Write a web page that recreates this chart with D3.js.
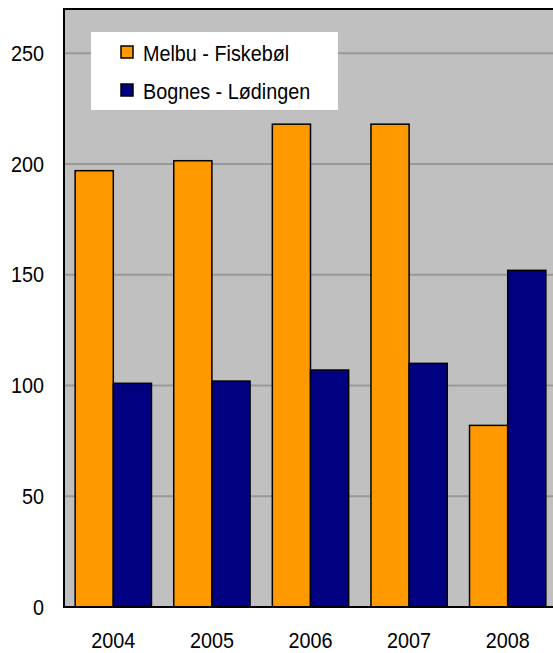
<!DOCTYPE html>
<html>
<head>
<meta charset="utf-8">
<script src="https://cdn.jsdelivr.net/npm/d3@7"></script>
<style>
  html, body { margin: 0; padding: 0; background: #ffffff; }
  svg { display: block; }
  text { font-family: "Liberation Sans", Arial, sans-serif; fill: #000; }
</style>
</head>
<body>
<svg id="chart" width="553" height="653"></svg>
<script>
// Ferry traffic per year on two crossings
const years = ["2004", "2005", "2006", "2007", "2008"];
const seriesNames = ["Melbu - Fiskebøl", "Bognes - Lødingen"];
const melbuFiskebol = [197, 201.5, 218, 218, 82];
const bognesLodingen = [101, 102, 107, 110, 152];
const yTicks = [0, 50, 100, 150, 200, 250];
const colors = ["#ff9900", "#000080"];

const rows = years.map((y, i) => ({ year: y, values: [melbuFiskebol[i], bognesLodingen[i]] }));

const svg = d3.select("#chart");
const plot = { left: 64, right: 557, top: 9, bottom: 607 };
const sx = 0.9; // horizontal squeeze of the label font

const y = d3.scaleLinear().domain([0, 270]).range([plot.bottom, plot.top]);
const x0 = d3.scaleBand().domain(years).range([plot.left, plot.right])
  .paddingInner(0.226).paddingOuter(0.113);
const x1 = d3.scaleBand().domain([0, 1]).range([0, x0.bandwidth()]);

// plot background
svg.append("rect")
  .attr("x", plot.left).attr("y", plot.top)
  .attr("width", plot.right - plot.left).attr("height", plot.bottom - plot.top)
  .attr("fill", "#c0c0c0");

// horizontal gridlines
svg.append("g").selectAll("line")
  .data(yTicks.filter(t => t > 0))
  .join("line")
  .attr("x1", plot.left).attr("x2", plot.right)
  .attr("y1", d => y(d)).attr("y2", d => y(d))
  .attr("stroke", "#999999").attr("stroke-width", 2);

// bars
const groups = svg.append("g").selectAll("g")
  .data(rows).join("g")
  .attr("transform", d => `translate(${x0(d.year)},0)`);
groups.selectAll("rect")
  .data(d => d.values.map((v, k) => ({ k, v })))
  .join("rect")
  .attr("x", d => x1(d.k))
  .attr("y", d => y(d.v))
  .attr("width", x1.bandwidth())
  .attr("height", d => y(0) - y(d.v))
  .attr("fill", d => colors[d.k])
  .attr("stroke", "#000").attr("stroke-width", 1.5);

// plot frame (left, top, bottom)
svg.append("path")
  .attr("d", `M${plot.right},${plot.top}H${plot.left}V${plot.bottom}H${plot.right}`)
  .attr("fill", "none").attr("stroke", "#000").attr("stroke-width", 2);

// y axis labels
const yAxis = svg.append("g")
  .attr("transform", `translate(${plot.left},0)`)
  .call(d3.axisLeft(y).tickValues(yTicks).tickSize(0).tickPadding(20));
yAxis.select(".domain").remove();
yAxis.selectAll("text")
  .attr("font-size", 22)
  .attr("font-family", "Liberation Sans, Arial, sans-serif")
  .attr("fill", "#000")
  .attr("x", -20 / sx)
  .attr("transform", `scale(${sx},1)`);

// x axis labels
const xAxis = svg.append("g")
  .attr("transform", `translate(0,${plot.bottom})`)
  .call(d3.axisBottom(x0).tickSize(0).tickPadding(25));
xAxis.select(".domain").remove();
xAxis.selectAll("text")
  .attr("font-size", 22)
  .attr("font-family", "Liberation Sans, Arial, sans-serif")
  .attr("fill", "#000")
  .attr("transform", `scale(${sx},1)`);

// legend
const legend = svg.append("g");
legend.append("rect")
  .attr("x", 91).attr("y", 32).attr("width", 247).attr("height", 78)
  .attr("fill", "#ffffff");
const legendRowY = [52, 90];
seriesNames.forEach((name, k) => {
  legend.append("rect")
    .attr("x", 121).attr("y", legendRowY[k] - 6)
    .attr("width", 12).attr("height", 12)
    .attr("fill", colors[k]).attr("stroke", "#000").attr("stroke-width", 1.5);
  legend.append("text")
    .attr("transform", `translate(143,${legendRowY[k] + 1}) scale(${sx},1)`)
    .attr("dy", "0.35em")
    .attr("font-size", 22)
    .text(name);
});
</script>
</body>
</html>
